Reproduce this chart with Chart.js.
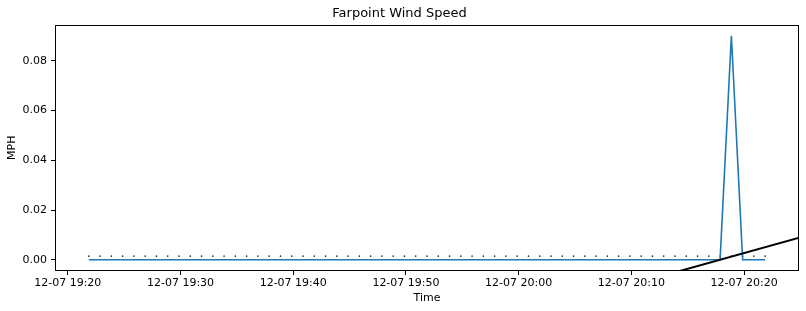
<!DOCTYPE html>
<html>
<head>
<meta charset="utf-8">
<script src="https://cdn.jsdelivr.net/npm/chart.js@4/dist/chart.umd.min.js"></script>
<style>
  html, body { margin: 0; padding: 0; background: #fff; }
  #wrap { width: 806px; height: 311px; }
</style>
</head>
<body>
<div id="wrap"><canvas id="windChart" width="806" height="311"></canvas></div>
<script>
// 数据 (读自图片)
const day = '12-07';
const times = [
  '19:21:52','19:22:52','19:23:52','19:24:52','19:25:52','19:26:52','19:27:52','19:28:52','19:29:52','19:30:52',
  '19:31:52','19:32:52','19:33:52','19:34:52','19:35:52','19:36:52','19:37:52','19:38:52','19:39:52','19:40:52',
  '19:41:52','19:42:52','19:43:52','19:44:52','19:45:52','19:46:52','19:47:52','19:48:52','19:49:52','19:50:52',
  '19:51:52','19:52:52','19:53:52','19:54:52','19:55:52','19:56:52','19:57:52','19:58:52','19:59:52','20:00:52',
  '20:01:52','20:02:52','20:03:52','20:04:52','20:05:52','20:06:52','20:07:52','20:08:52','20:09:52','20:10:52',
  '20:11:52','20:12:52','20:13:52','20:14:52','20:15:52','20:16:52','20:17:52','20:18:52','20:19:52','20:20:52',
  '20:21:52'
];
const speeds = [
  0,0,0,0,0,0,0,0,0,0,
  0,0,0,0,0,0,0,0,0,0,
  0,0,0,0,0,0,0,0,0,0,
  0,0,0,0,0,0,0,0,0,0,
  0,0,0,0,0,0,0,0,0,0,
  0,0,0,0,0,0,0,0.09,0,0,
  0
];
// 黑色趋势线
const trendTimes = ['20:10:00', '20:25:00'];
const trendValues = [-0.0099, 0.0090];
// 刻度
const xTickTimes = ['19:20', '19:30', '19:40', '19:50', '20:00', '20:10', '20:20'];
const yTicks = [0, 0.02, 0.04, 0.06, 0.08];

// 时间转成 19:00 之后的分钟数
function toMin(t) {
  const p = t.split(':').map(Number);
  return (p[0] - 19) * 60 + p[1] + (p[2] || 0) / 60;
}
function fmtMin(m) {
  const total = Math.round(m);
  const h = 19 + Math.floor(total / 60);
  const mm = total % 60;
  return day + ' ' + h + ':' + String(mm).padStart(2, '0');
}

const xs = times.map(toMin);
const mean = speeds.reduce((a, b) => a + b, 0) / speeds.length;

// matplotlib 风格的 5% 边距
const xMinD = Math.min(...xs), xMaxD = Math.max(...xs);
const yMinD = Math.min(...speeds), yMaxD = Math.max(...speeds);
const xPad = (xMaxD - xMinD) * 0.05, yPad = (yMaxD - yMinD) * 0.05;

const font = { family: 'DejaVu Sans', size: 11 };

// 画四周的框
const boxPlugin = {
  id: 'box',
  afterDatasetsDraw(chart) {
    const a = chart.chartArea;
    const ctx = chart.ctx;
    ctx.save();
    ctx.strokeStyle = '#000';
    ctx.lineWidth = 1;
    ctx.strokeRect(Math.round(a.left) + 0.5, Math.round(a.top) + 0.5,
      Math.round(a.right - a.left) - 1, Math.round(a.bottom - a.top) - 1);
    ctx.restore();
  }
};

const ctx = document.getElementById('windChart').getContext('2d');
const windChart = new Chart(ctx, {
  type: 'line',
  data: {
    datasets: [
      {
        label: 'trend',
        data: trendTimes.map((t, i) => ({ x: toMin(t), y: trendValues[i] })),
        borderColor: '#000',
        borderWidth: 2,
        pointRadius: 0,
        order: 0
      },
      {
        label: 'speed',
        data: xs.map((x, i) => ({ x: x, y: speeds[i] })),
        borderColor: '#1f77b4',
        borderWidth: 1.6,
        pointRadius: 0,
        tension: 0,
        order: 1
      },
      {
        label: 'mean',
        data: xs.map(x => ({ x: x, y: mean })),
        showLine: false,
        pointRadius: 0.8,
        pointBorderWidth: 0,
        pointBackgroundColor: '#222',
        order: 2
      }
    ]
  },
  options: {
    responsive: false,
    animation: false,
    layout: { padding: { left: 0, right: 7, top: 0, bottom: 3 } },
    plugins: {
      legend: { display: false },
      tooltip: { enabled: false },
      title: {
        display: true,
        text: 'Farpoint Wind Speed',
        color: '#000',
        font: { family: 'DejaVu Sans', size: 13, weight: 'normal' },
        padding: { top: 6, bottom: 3 }
      }
    },
    scales: {
      x: {
        type: 'linear',
        min: xMinD - xPad,
        max: xMaxD + xPad,
        afterBuildTicks: s => { s.ticks = xTickTimes.map(t => ({ value: toMin(t) })); },
        afterFit: s => { s.height = 37; },
        ticks: {
          color: '#000', font: font, padding: 2, maxRotation: 0, autoSkip: false,
          callback: v => fmtMin(v)
        },
        grid: { display: true, drawOnChartArea: false, drawTicks: true, tickLength: 4, color: '#000' },
        border: { display: false },
        title: { display: true, text: 'Time', color: '#000', font: font, padding: { top: 0, bottom: 3 } }
      },
      y: {
        min: yMinD - yPad,
        max: yMaxD + yPad,
        afterBuildTicks: s => { s.ticks = yTicks.map(v => ({ value: v })); },
        afterFit: s => { s.width = 55; },
        ticks: { color: '#000', font: font, padding: 4, callback: v => v.toFixed(2) },
        grid: { display: true, drawOnChartArea: false, drawTicks: true, tickLength: 4, color: '#000' },
        border: { display: false },
        title: { display: true, text: 'MPH', color: '#000', font: font, padding: { top: 6, bottom: 0 } }
      }
    }
  },
  plugins: [boxPlugin]
});
</script>
</body>
</html>
